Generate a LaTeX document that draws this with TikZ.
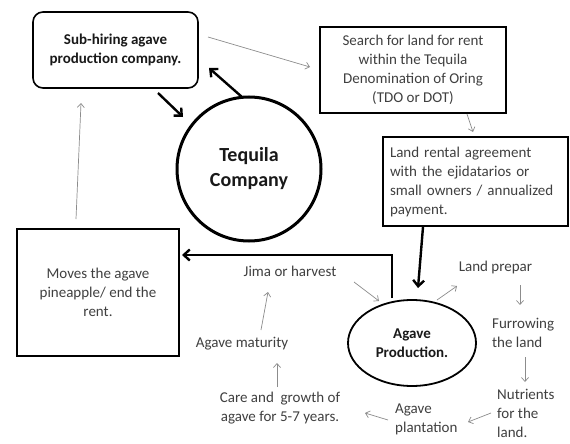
\documentclass[tikz,border=0pt]{standalone}
\usepackage{fontspec}
\setmainfont{Carlito}
\usetikzlibrary{arrows.meta,shapes.geometric}
\definecolor{txt}{HTML}{404040}
\definecolor{thinc}{HTML}{8C8C8C}
\begin{document}
\begin{tikzpicture}[x=1pt,y=-1pt,
  every node/.style={font=\fontsize{15}{19}\selectfont, text=txt},
  box/.style={draw=black, line width=1.6pt, inner sep=0pt, align=center},
  boldtxt/.style={font=\bfseries\fontsize{15}{19}\selectfont, text=black!90},
  thinarrow/.style={draw=thinc, line width=0.7pt, -{Straight Barb[length=4pt,width=7pt]}},
  thickarrow/.style={draw=black, line width=2.4pt, -{Straight Barb[length=6pt,width=11pt]}},
  lbl/.style={inner sep=0pt}]
\useasboundingbox (0,0) rectangle (570,444);
\fill[white] (0,0) rectangle (570,444);

% boxes
\node[box, boldtxt, rounded corners=10pt, minimum width=165pt, minimum height=76pt] (sub) at (115.5,50) {Sub-hiring agave\\production company.};
\node[box, minimum width=186pt, minimum height=86pt] (search) at (413,70) {Search for land for rent\\within the Tequila\\Denomination of Oring\\(TDO or DOT)};
\node[box, align=left, text width=171pt, minimum width=185pt, minimum height=89pt] (rental) at (475.5,181.5) {Land rental agreement\\with the ejidatarios or\\small owners / annualized\\payment.};
\node[box, minimum width=162pt, minimum height=127pt] (moves) at (98,292.5) {Moves the agave\\pineapple/ end the\\rent.};
\node[draw=black, line width=3pt, circle, minimum size=144pt, inner sep=0pt, align=center, font=\bfseries\fontsize{20}{25}\selectfont, text=black!90] (teq) at (249,169) {Tequila\\Company};
\node[draw=black, line width=1.8pt, ellipse, minimum width=128pt, minimum height=86pt, inner sep=0pt, align=center, boldtxt] (agp) at (412,343) {Agave\\Production.};

% labels
\node[lbl] (jima) at (290,271) {Jima or harvest};
\node[lbl] (mat) at (242,344) {Agave maturity};
\node[lbl, align=center] (care) at (280,408) {Care and\ \ growth of\\agave for 5-7 years.};
\node[lbl, align=left, anchor=west] (plant) at (395,419) {Agave\\plantation};
\node[lbl, align=left, anchor=west] (nutr) at (497,413) {Nutrients\\for the\\land.};
\node[lbl, align=left, anchor=west] (furr) at (492,333) {Furrowing\\the land};
\node[lbl] (prep) at (495.5,267) {Land prepar};

% endpoints
\coordinate (c1) at (242,97);  \coordinate (c2) at (209,68);
\coordinate (c3) at (158,93);  \coordinate (c4) at (183,117);
\coordinate (c5) at (423,227); \coordinate (c6) at (418,288);
\coordinate (c7) at (392,298); \coordinate (c8) at (392,255); \coordinate (c9) at (182,255);
\coordinate (t1) at (208,37);  \coordinate (t2) at (310,67);
\coordinate (t3) at (467,114); \coordinate (t4) at (473,132);
\coordinate (t5) at (76,219);  \coordinate (t6) at (81,103);
\coordinate (t7) at (354,282); \coordinate (t8) at (379,301);
\coordinate (t9) at (261,330); \coordinate (t10) at (268,292);
\coordinate (t11) at (277,387); \coordinate (t12) at (277,363);
\coordinate (t13) at (388,420); \coordinate (t14) at (365,413);
\coordinate (t15) at (491,413); \coordinate (t16) at (468,422);
\coordinate (t17) at (525,357); \coordinate (t18) at (525,382);
\coordinate (t19) at (520,285); \coordinate (t20) at (520,305);
\coordinate (t21) at (437,300); \coordinate (t22) at (457,286);

% thick connectors
\draw[thickarrow] (c1) -- (c2);
\draw[thickarrow] (c3) -- (c4);
\draw[thickarrow] (c5) -- (c6);
\draw[thickarrow] (c7) -- (c8) -- (c9);

% thin connectors
\draw[thinarrow] (t1) -- (t2);
\draw[thinarrow] (t3) -- (t4);
\draw[thinarrow] (t5) -- (t6);
\draw[thinarrow] (t7) -- (t8);
\draw[thinarrow] (t9) -- (t10);
\draw[thinarrow] (t11) -- (t12);
\draw[thinarrow] (t13) -- (t14);
\draw[thinarrow] (t15) -- (t16);
\draw[thinarrow] (t17) -- (t18);
\draw[thinarrow] (t19) -- (t20);
\draw[thinarrow] (t21) -- (t22);
\end{tikzpicture}
\end{document}
